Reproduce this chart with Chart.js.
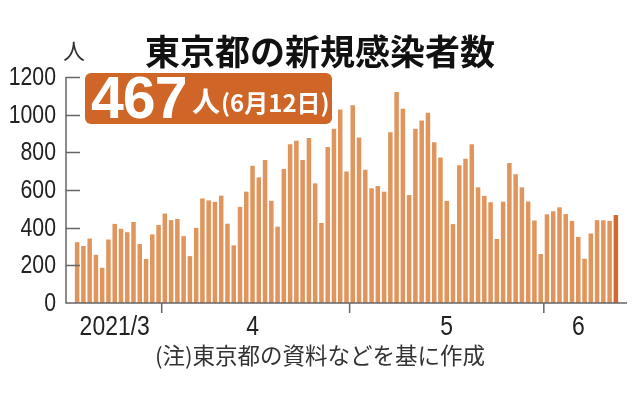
<!DOCTYPE html>
<html>
<head>
<meta charset="utf-8">
<script src="https://cdn.jsdelivr.net/npm/chart.js@4/dist/chart.umd.min.js"></script>
<style>
  body { margin: 0; background: #fff; }
  #wrap { position: relative; width: 638px; height: 396px; overflow: hidden; }
  #chart { position: absolute; left: 0; top: 0; }
  .title { position: absolute; left: 0; top: 30px; width: 640px; text-align: center;
    font-family: "Noto Sans CJK JP", sans-serif; font-weight: 700; font-size: 35px; color: #111; line-height: 40px; }
  .unit { position: absolute; left: 63px; top: 36px; font-family: "Noto Sans CJK JP", sans-serif;
    font-size: 22px; color: #333; line-height: 26px; }
  .badge { position: absolute; left: 85px; top: 73px; width: 247px; height: 51px; border-radius: 6px;
    background: #cf6527; color: #fff; white-space: nowrap; }
  .badge .num { position: absolute; left: 6px; top: -6px; font-family: "Liberation Sans", Arial, sans-serif;
    font-weight: 700; font-size: 59px; line-height: 62px; letter-spacing: -1px; }
  .badge .rest { position: absolute; left: 107px; top: 10px; font-family: "Noto Sans CJK JP", sans-serif;
    font-weight: 700; font-size: 24px; line-height: 34px; }
  .badge .rest .p { font-size: 28px; margin-right: 1px; }
  .note { position: absolute; left: 0; top: 340px; width: 640px; text-align: center;
    font-family: "Noto Sans CJK JP", sans-serif; font-size: 22.5px; color: #333; line-height: 28px; }
</style>
</head>
<body>
<div id="wrap">
  <canvas id="chart" width="638" height="396"></canvas>
  <div class="title">東京都の新規感染者数</div>
  <div class="unit">人</div>
  <div class="badge"><span class="num">467</span><span class="rest"><span class="p">人</span>(6月12日)</span></div>
  <div class="note">(注)東京都の資料などを基に作成</div>
</div>
<script>
// daily new cases, 2021/3/18 - 2021/6/12
const months = [3, 4, 5, 6];
const firstDay = [18, 1, 1, 1];
const marchCases = [323, 303, 342, 256, 187, 337, 420, 394, 376, 430, 313, 234, 364, 414];
const aprilCases = [475, 440, 446, 355, 249, 399, 555, 545, 537, 570, 421, 306, 510, 591, 729,
                    667, 759, 543, 405, 711, 843, 861, 759, 876, 635, 425, 828, 925, 1027, 698];
const mayCases = [1050, 879, 708, 609, 621, 591, 907, 1121, 1032, 573, 925, 969, 1010, 854, 772, 542,
                  419, 732, 766, 843, 614, 569, 535, 340, 538, 743, 684, 614, 539, 438, 260];
const juneCases = [471, 487, 508, 472, 436, 351, 235, 369, 440, 439, 436, 467];
const monthLabels = ['2021/3', '4', '5', '6'];
const yTicks = [0, 200, 400, 600, 800, 1000, 1200];

const monthCases = [marchCases, aprilCases, mayCases, juneCases];
const cases = [].concat(...monthCases);

// category labels (dates) and where each month's label goes
const categories = [];
const tickText = {};
const monthStart = [];
monthCases.forEach((arr, m) => {
    monthStart.push(categories.length);
    tickText[categories.length + Math.floor((arr.length - 1) / 2)] = monthLabels[m];
    arr.forEach((v, d) => categories.push(months[m] + '/' + (firstDay[m] + d)));
});

const barColor = cases.map((v, i) => i === cases.length - 1 ? '#d0692e' : '#e0955d');

const axisGray = '#666';
const axisX = 66;
const narrow = 0.85;   // no condensed font installed, so squeeze the tick text

function narrowText(ctx, text, x, y, align) {
    ctx.save();
    ctx.translate(x, y);
    ctx.scale(narrow, 1);
    ctx.textAlign = align;
    ctx.fillText(text, 0, 0);
    ctx.restore();
}

// axis lines, inward ticks and narrow tick labels, placed with the chart's scales
const axisPlugin = {
    id: 'axisLines',
    afterDraw(chart) {
        const ctx = chart.ctx;
        const x = chart.scales.x, y = chart.scales.y;
        const y0 = y.getPixelForValue(0);
        ctx.save();
        ctx.strokeStyle = axisGray;
        ctx.lineWidth = 1.5;
        ctx.beginPath();
        ctx.moveTo(axisX, y.getPixelForValue(1200));
        ctx.lineTo(axisX, y0);
        ctx.lineTo(627, y0);
        yTicks.slice(1).forEach(t => {
            const py = Math.round(y.getPixelForValue(t)) + 0.5;
            ctx.moveTo(axisX, py);
            ctx.lineTo(axisX + 14, py);
        });
        monthStart.slice(1).forEach(s => {
            const px = (x.getPixelForValue(s - 1) + x.getPixelForValue(s)) / 2;
            ctx.moveTo(px, y0);
            ctx.lineTo(px, y0 + 10);
        });
        ctx.stroke();

        ctx.fillStyle = '#222';
        ctx.textBaseline = 'middle';
        ctx.font = '25px "Liberation Sans", Arial, sans-serif';
        y.ticks.forEach(t => narrowText(ctx, String(t.value), 56, y.getPixelForValue(t.value) + 1, 'right'));
        ctx.font = '27px "Liberation Sans", Arial, sans-serif';
        Object.keys(tickText).forEach(i => narrowText(ctx, tickText[i], x.getPixelForValue(+i), y0 + 25, 'center'));
        ctx.restore();
    }
};

new Chart(document.getElementById('chart'), {
    type: 'bar',
    data: {
        labels: categories,
        datasets: [{
            data: cases,
            backgroundColor: barColor,
            barPercentage: 0.72,
            categoryPercentage: 1.0
        }]
    },
    options: {
        responsive: false,
        animation: false,
        devicePixelRatio: 1,
        layout: { padding: { left: 0, right: 19, top: 77, bottom: 50 } },
        plugins: { legend: { display: false }, tooltip: { enabled: false } },
        scales: {
            x: {
                grid: { display: false, drawTicks: false },
                border: { display: false },
                ticks: { display: false, autoSkip: false },
                afterFit: s => { s.height = 43; }
            },
            y: {
                min: 0,
                max: 1200,
                grid: { display: false, drawTicks: false },
                border: { display: false },
                ticks: { display: false, stepSize: 200 },
                afterFit: s => { s.width = 74; }
            }
        }
    },
    plugins: [axisPlugin]
});
</script>
</body>
</html>
